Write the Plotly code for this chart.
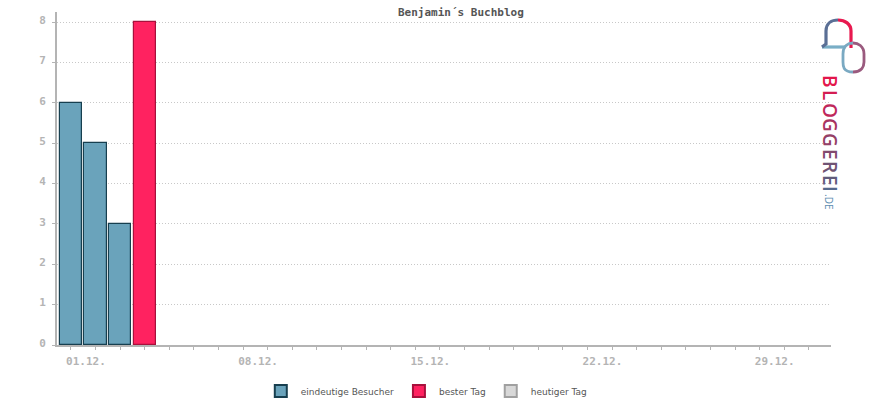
import plotly.graph_objects as go

# ---- data ----
visitor_days = ["2023-12-01", "2023-12-02", "2023-12-03"]
visitor_values = [6, 5, 3]
best_days = ["2023-12-04"]
best_values = [8]
today_days = ["2023-12-31"]
today_values = [None]
title_text = "Benjamin´s Buchblog"
legend_names = ["eindeutige Besucher", "bester Tag", "heutiger Tag"]

W, H = 870, 400
L, R, T, B = 57, 831, 12, 345

def pp(x, y):
    return ((x - L) / (R - L), (B - y) / (B - T))

def path(points_cmds):
    out = []
    for cmd, pts in points_cmds:
        coords = " ".join("%.5f,%.5f" % pp(x, y) for x, y in pts)
        out.append(cmd + coords)
    return " ".join(out)

BAR_W = 0.9 * 86400000

fig = go.Figure()
fig.add_trace(go.Bar(x=visitor_days, y=visitor_values, name=legend_names[0], width=BAR_W,
                     marker=dict(color="#6aa3bb", line=dict(color="#173f4f", width=1.2))))
fig.add_trace(go.Bar(x=best_days, y=best_values, name=legend_names[1], width=BAR_W,
                     marker=dict(color="#ff2260", line=dict(color="#a8103c", width=1.2))))
fig.add_trace(go.Bar(x=today_days, y=today_values, name=legend_names[2], width=BAR_W,
                     marker=dict(color="#d8d8d8", line=dict(color="#a0a0a0", width=1.2))))

axis_font = dict(family="DejaVu Sans Mono", size=11, color="#b4b4b4", weight="bold")

fig.update_layout(
    width=W, height=H,
    margin=dict(l=L, r=W - R, t=T, b=H - B, pad=0, autoexpand=False),
    paper_bgcolor="white", plot_bgcolor="white",
    barmode="overlay", bargap=0,
    showlegend=True,
    legend=dict(orientation="h", xref="container", yref="paper", x=0.49, xanchor="center",
                y=pp(0, 391)[1], yanchor="middle", font=dict(family="DejaVu Sans", size=9, color="#555555"),
                traceorder="normal", itemsizing="constant"),
    xaxis=dict(type="date", range=["2023-11-30 10:26", "2023-12-31 21:36"], automargin=False,
               tickformat="%d.%m.", dtick=7 * 86400000, tick0="2023-12-01",
               ticks="outside", ticklen=3, tickwidth=1, tickcolor="#b4b4b4",
               minor=dict(dtick=86400000, tick0="2023-12-01", ticks="outside", ticklen=3, tickcolor="#b4b4b4", showgrid=False),
               showline=True, linecolor="#b4b4b4", linewidth=2, showgrid=False, zeroline=False,
               tickfont=axis_font, ticklabelshift=15, ticklabelstandoff=2, fixedrange=True),
    yaxis=dict(range=[0, 8.25], dtick=1, tick0=0, ticks="outside", ticklen=3, tickcolor="#b4b4b4",
               automargin=False,
               showline=True, linecolor="#b4b4b4", linewidth=2,
               showgrid=True, gridcolor="#c8c8c8", griddash="1px,2px", gridwidth=1, zeroline=False,
               tickfont=axis_font, ticklabelstandoff=4, ticklabelshift=-2),
)

fig.add_annotation(text=title_text, xref="paper", yref="paper", x=pp(461, 0)[0], y=pp(0, 12)[1],
                   showarrow=False, xanchor="center", yanchor="middle",
                   font=dict(family="DejaVu Sans Mono", size=11, color="#555555", weight="bold"))

# ---- bloggerei logo ----
shapes = []
def add_path(cmds, color, width=3.2):
    shapes.append(dict(type="path", xref="paper", yref="paper", path=path(cmds),
                       line=dict(color=color, width=width), fillcolor="rgba(0,0,0,0)", layer="above"))

add_path([("M", [(822, 47)]), ("L", [(845, 47)])], "#79aec6")
add_path([("M", [(822, 47)]), ("L", [(826, 44)]), ("L", [(826, 31)]),
          ("C", [(826, 23), (832, 20), (838, 20)])], "#5a6f95")
add_path([("M", [(838, 20)]), ("C", [(845, 20), (851, 24), (851, 31)]), ("L", [(851, 48)])], "#e8194f")
add_path([("M", [(853, 72)]), ("C", [(843, 72), (843, 66), (843, 62)]), ("L", [(843, 54)]),
          ("C", [(843, 46), (848, 43), (853, 43)])], "#7aa9c2", 2.8)
add_path([("M", [(853, 43)]), ("C", [(858, 43), (864, 46), (864, 54)]), ("L", [(864, 62)]),
          ("C", [(864, 66), (862, 72), (853, 72)])], "#9a5a7e", 2.8)
fig.update_layout(shapes=shapes)

letters = ["B", "L", "O", "G", "G", "E", "R", "E", "I"]
letter_y = [81, 95, 110, 125, 140, 154, 167, 180, 189]
letter_col = ["#e3164b", "#d41d52", "#c0285b", "#a93461", "#954067", "#824a6e", "#705373", "#615b7b", "#566a8c"]
for ch, yy, cc in zip(letters, letter_y, letter_col):
    x0, y0 = pp(830, yy)
    fig.add_annotation(text=ch, xref="paper", yref="paper", x=x0, y=y0, showarrow=False,
                       textangle=90, xanchor="center", yanchor="middle",
                       font=dict(family="Open Sans", size=19, color=cc, weight=600))
x0, y0 = pp(829, 201)
fig.add_annotation(text=".DE", xref="paper", yref="paper", x=x0, y=y0, showarrow=False,
                   textangle=90, xanchor="center", yanchor="middle",
                   font=dict(family="Open Sans", size=10, color="#5c8db0"))

fig.write_html("out.html", config={"displayModeBar": False},
               post_script="document.body.style.margin='0px';")
